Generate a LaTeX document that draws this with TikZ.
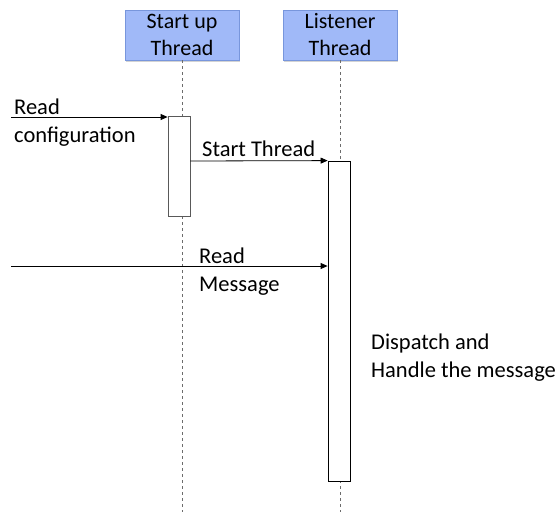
\documentclass[tikz,border=0pt]{standalone}
\usepackage{fontspec}
\setmainfont{Carlito}
\usetikzlibrary{arrows.meta,shadows}
\definecolor{headfill}{RGB}{160,185,248}
\definecolor{headdraw}{RGB}{120,150,220}
\begin{document}
\begin{tikzpicture}[x=1pt,y=-1pt,
  head/.style={draw=headdraw, fill=headfill, line width=0.8pt, minimum width=114pt, minimum height=50pt, inner sep=0pt, align=center, font=\fontsize{22}{27}\selectfont, drop shadow={shadow xshift=1pt, shadow yshift=-2pt, opacity=0.35}},
  life/.style={draw=gray!85!black, dash pattern=on 3pt off 3pt, line width=0.9pt},
  act/.style={draw, fill=white, minimum width=22pt, inner sep=0pt, line width=0.8pt},
  msg/.style={-{Triangle[length=7pt,width=6pt]}, line width=0.8pt},
  lbl/.style={anchor=base west, inner sep=0pt, align=left, font=\fontsize{22.5}{28}\selectfont}]
\useasboundingbox (0,0) rectangle (558,512);
% headers
\node[head] (h1) at (182,35) {Start up\\Thread};
\node[head] (h2) at (340,35) {Listener\\Thread};
% lifeline ends
\coordinate (e1) at (182,512);
\coordinate (e2) at (340,512);
\draw[life] (h1.south) -- (e1);
\draw[life] (h2.south) -- (e2);
% activations
\node[act, minimum height=100pt, draw=gray!70!black] (a1) at (179,166) {};
\node[act, minimum height=320pt] (a2) at (339,321) {};
% messages
\coordinate (s1) at (11,117);
\coordinate (s3) at (11,266);
\draw[msg] (s1) -- (s1 -| a1.west);
\draw[msg] (a1.east |- 0,161) -- (a2.north west);
\draw[msg] (s3) -- (s3 -| a2.west);
% labels (base anchor = last line's baseline)
\node[lbl] (l1) at (14,142) {Read\\configuration};
\node[lbl] (l2) at (202,156) {Start Thread};
\node[lbl] (l3) at (199,291) {Read\\Message};
\node[lbl] (l4) at (371,377) {Dispatch and\\Handle the message};
\end{tikzpicture}
\end{document}
